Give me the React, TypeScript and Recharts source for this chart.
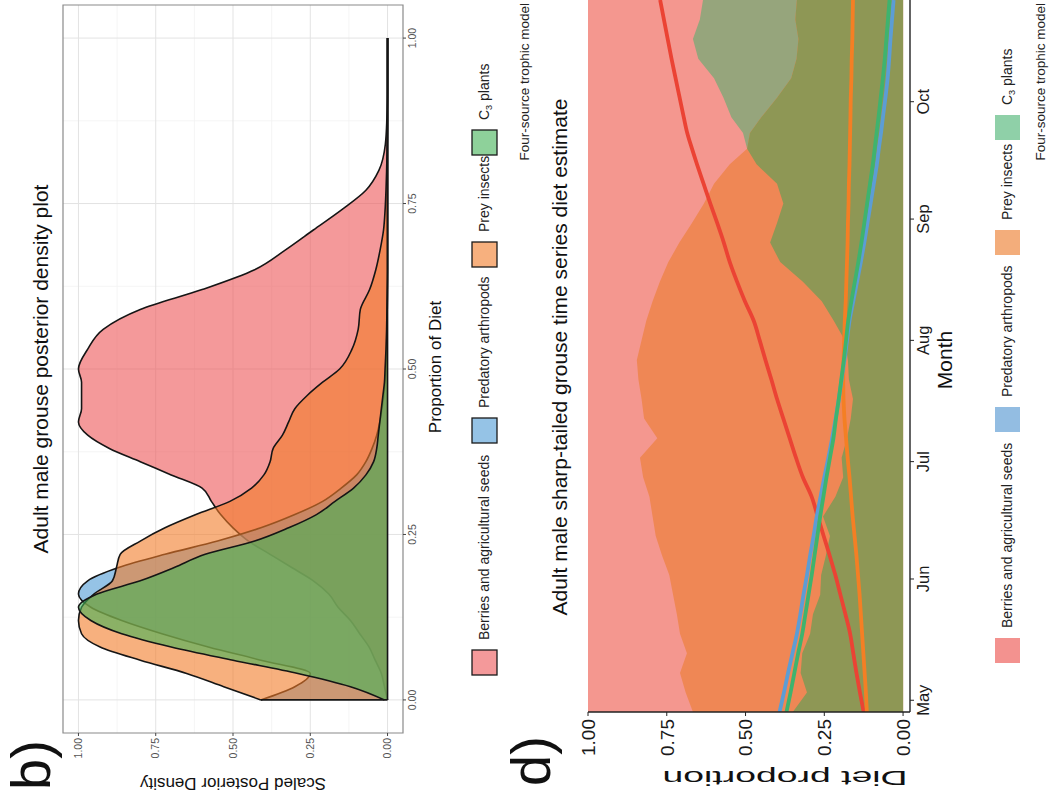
import React from "react";
import {
  ComposedChart,
  Area,
  Line,
  XAxis,
  YAxis,
  CartesianGrid,
  ReferenceLine,
  ReferenceArea,
} from "recharts";

// The whole figure is drawn upright (804 wide, 1055 tall) and then turned
// 90 degrees counter-clockwise, the way it appears in the reference.

const FONT = '"Liberation Sans", Arial, Helvetica, sans-serif';

// ---------------------------------------------------------------------------
// Panel b: posterior densities (scaled to a max of 1)
// ---------------------------------------------------------------------------

const proportion = [
  0, 0.02, 0.04, 0.06, 0.08, 0.1, 0.12, 0.14, 0.16, 0.18, 0.2, 0.22, 0.24, 0.26,
  0.28, 0.3, 0.32, 0.34, 0.36, 0.38, 0.4, 0.42, 0.44, 0.46, 0.48, 0.5, 0.53,
  0.56, 0.59, 0.62, 0.65, 0.68, 0.71, 0.74, 0.77, 0.8, 0.84, 0.88, 0.92, 1,
];
const berriesDensity = [
  0, 0.01, 0.02, 0.04, 0.06, 0.09, 0.12, 0.16, 0.19, 0.24, 0.31, 0.38, 0.45,
  0.5, 0.54, 0.57, 0.6, 0.7, 0.8, 0.9, 0.97, 1.0, 0.99, 0.99, 0.99, 1.0, 0.97,
  0.92, 0.8, 0.6, 0.43, 0.33, 0.24, 0.15, 0.07, 0.028, 0.007, 0.002, 0, 0,
];
const predatoryDensity = [
  0.41, 0.3, 0.25, 0.41, 0.58, 0.73, 0.86, 0.96, 1.0, 0.97, 0.87, 0.72, 0.55,
  0.41, 0.3, 0.21, 0.15, 0.1, 0.07, 0.05, 0.035, 0.025, 0.018, 0.012, 0.008,
  0.005, 0.003, 0.002, 0.001, 0, 0, 0, 0, 0, 0, 0, 0, 0, 0, 0,
];
const preyDensity = [
  0.41, 0.53, 0.65, 0.8, 0.93, 0.99, 1.0, 0.99, 0.95, 0.89, 0.877, 0.865, 0.8,
  0.72, 0.62, 0.51, 0.44, 0.4, 0.38, 0.37, 0.34, 0.32, 0.3, 0.26, 0.21, 0.155,
  0.115, 0.095, 0.088, 0.058, 0.038, 0.024, 0.013, 0.008, 0.005, 0.003, 0.001,
  0, 0, 0,
];
const c3Density = [
  0.01, 0.12, 0.29, 0.5, 0.7, 0.86, 0.96, 1.0, 0.94, 0.8, 0.69, 0.59, 0.43,
  0.32, 0.23, 0.17, 0.11, 0.07, 0.045, 0.035, 0.03, 0.025, 0.02, 0.015, 0.01,
  0.008, 0.005, 0.003, 0.002, 0.001, 0, 0, 0, 0, 0, 0, 0, 0, 0, 0,
];

const unitTicks = [0, 0.25, 0.5, 0.75, 1];
const minorTicks = [0.125, 0.375, 0.625, 0.875];

// ---------------------------------------------------------------------------
// Panel d: time series diet estimate
// ---------------------------------------------------------------------------

const dayOfYear = [
  118, 123, 128, 133, 138, 143, 148, 153, 158, 163, 168, 173, 178, 183, 188,
  193, 198, 203, 208, 213, 218, 223, 228, 233, 238, 243, 248, 253, 258, 262,
  266, 270, 275, 280, 285, 290, 295, 300,
];
// upper edge of the orange ribbon
const orangeBandTop = [
  0.667, 0.69, 0.708, 0.686, 0.708, 0.718, 0.73, 0.742, 0.765, 0.785, 0.795,
  0.805, 0.825, 0.835, 0.78, 0.822, 0.83, 0.84, 0.845, 0.83, 0.815, 0.795,
  0.772, 0.745, 0.71, 0.67, 0.632, 0.6, 0.55, 0.495, 0.486, 0.45, 0.4, 0.355,
  0.338, 0.332, 0.342, 0.337,
];
// upper edge of the green ribbon
const greenBandTop = [
  0.35, 0.305, 0.325, 0.32, 0.295, 0.286, 0.263, 0.26, 0.245, 0.232, 0.254,
  0.215, 0.19, 0.195, 0.178, 0.166, 0.159, 0.172, 0.175, 0.185, 0.22, 0.258,
  0.318, 0.39, 0.422, 0.4, 0.38, 0.4, 0.465, 0.495, 0.508, 0.545, 0.57, 0.6,
  0.65, 0.667, 0.645, 0.635,
];
const berriesTrend = [
  0.125, 0.137, 0.148, 0.158, 0.168, 0.183, 0.199, 0.215, 0.233, 0.252, 0.271,
  0.29, 0.318, 0.34, 0.36, 0.38, 0.4, 0.418, 0.437, 0.455, 0.474, 0.502, 0.527,
  0.55, 0.569, 0.59, 0.612, 0.633, 0.654, 0.67, 0.685, 0.696, 0.709, 0.722,
  0.735, 0.747, 0.759, 0.771,
];
const preyTrend = [
  0.115, 0.118, 0.122, 0.126, 0.13, 0.134, 0.138, 0.143, 0.148, 0.154, 0.16,
  0.165, 0.17, 0.176, 0.181, 0.186, 0.189, 0.19, 0.189, 0.187, 0.185, 0.182,
  0.18, 0.178, 0.176, 0.175, 0.173, 0.172, 0.17, 0.169, 0.168, 0.167, 0.166,
  0.164, 0.163, 0.161, 0.16, 0.159,
];
const predatoryTrend = [
  0.392, 0.378, 0.365, 0.351, 0.337, 0.326, 0.316, 0.305, 0.295, 0.284, 0.274,
  0.262, 0.25, 0.237, 0.225, 0.214, 0.204, 0.195, 0.186, 0.178, 0.17, 0.158,
  0.146, 0.134, 0.123, 0.113, 0.103, 0.093, 0.083, 0.077, 0.07, 0.064, 0.056,
  0.049, 0.044, 0.04, 0.035, 0.03,
];
const c3Trend = [
  0.37, 0.357, 0.345, 0.333, 0.32, 0.31, 0.3, 0.29, 0.281, 0.272, 0.263, 0.253,
  0.243, 0.232, 0.221, 0.213, 0.204, 0.196, 0.188, 0.181, 0.174, 0.164, 0.153,
  0.142, 0.132, 0.123, 0.114, 0.105, 0.096, 0.09, 0.084, 0.078, 0.071, 0.064,
  0.058, 0.053, 0.048, 0.043,
];

const monthTicks = [121, 152, 182, 213, 244, 274];
const monthLabels = ["May", "Jun", "Jul", "Aug", "Sep", "Oct"];

const sources = [
  "Berries and agricultural seeds",
  "Predatory arthropods",
  "Prey insects",
  "C3 plants",
];

// colours
const densityFill = ["#ED5557", "#4E9BD5", "#F27B28", "#43B356"];
const seriesLegendFill = ["#F3928F", "#93BDE2", "#F3AD7B", "#8FD0A8"];
const trendStroke = ["#EB4334", "#5C9DD5", "#F47F24", "#3FB36E"];

// ---------------------------------------------------------------------------

const densityRows = proportion.map((p, i) => ({
  p,
  berries: berriesDensity[i],
  predatory: predatoryDensity[i],
  prey: preyDensity[i],
  c3: c3Density[i],
}));

const seriesRows = dayOfYear.map((day, i) => ({
  day,
  orangeTop: orangeBandTop[i],
  greenTop: greenBandTop[i],
  overlapTop: Math.min(orangeBandTop[i], greenBandTop[i]),
  berries: berriesTrend[i],
  prey: preyTrend[i],
  predatory: predatoryTrend[i],
  c3: c3Trend[i],
}));

function C3Label({ x, y, size }: { x: number; y: number; size: number }) {
  return (
    <text x={x} y={y} fontSize={size} fontFamily={FONT} fill="#222">
      <tspan>C</tspan>
      <tspan dy={3} fontSize={size * 0.65}>3</tspan>
      <tspan dy={-3}> plants</tspan>
    </text>
  );
}

function LegendRow({
  v,
  squares,
  fills,
  bordered,
}: {
  v: number;
  squares: number[];
  fills: string[];
  bordered: boolean;
}) {
  return (
    <g>
      {sources.map((name, i) => (
        <g key={name}>
          <rect
            x={squares[i]}
            y={v}
            width={25}
            height={25}
            fill={fills[i]}
            stroke={bordered ? "#1a1a1a" : "none"}
            strokeWidth={1.3}
          />
          {i === 3 ? (
            <C3Label x={squares[i] + 35} y={v + 17} size={14} />
          ) : (
            <text
              x={squares[i] + 35}
              y={v + 17}
              fontSize={14}
              fontFamily={FONT}
              fill="#222"
            >
              {name}
            </text>
          )}
        </g>
      ))}
    </g>
  );
}

function DensityPanel() {
  const keys = ["berries", "predatory", "prey", "c3"];
  return (
    <ComposedChart
      width={804}
      height={440}
      data={densityRows}
      margin={{ top: 63, right: 5, bottom: 7, left: 0 }}
    >
      <CartesianGrid
        stroke="#F2F2F2"
        strokeWidth={0.8}
        horizontalValues={minorTicks}
        verticalValues={minorTicks}
      />
      <CartesianGrid
        stroke="#E3E3E3"
        strokeWidth={1}
        horizontalValues={unitTicks}
        verticalValues={unitTicks}
      />
      <XAxis
        dataKey="p"
        type="number"
        domain={[-0.05, 1.05]}
        allowDataOverflow
        ticks={unitTicks}
        tickFormatter={(v: number) => v.toFixed(2)}
        axisLine={false}
        tickSize={3}
        tickMargin={3}
        tickLine={{ stroke: "#444" }}
        tick={{ fontSize: 10.5, fill: "#555", fontFamily: FONT }}
      />
      <YAxis
        type="number"
        domain={[-0.05, 1.05]}
        allowDataOverflow
        ticks={unitTicks}
        tickFormatter={(v: number) => v.toFixed(2)}
        width={71}
        axisLine={false}
        tickSize={3}
        tickMargin={2}
        tickLine={{ stroke: "#444" }}
        tick={{ fontSize: 10.5, fill: "#555", fontFamily: FONT }}
      />
      {keys.map((k, i) => (
        <Area
          key={k}
          type="monotone"
          dataKey={k}
          fill={densityFill[i]}
          fillOpacity={0.6}
          stroke="#151515"
          strokeWidth={1.6}
          dot={false}
          activeDot={false}
          isAnimationActive={false}
        />
      ))}
      <ReferenceLine
        segment={[
          { x: 0, y: 0 },
          { x: 1, y: 0 },
        ]}
        stroke="#151515"
        strokeWidth={1.6}
      />
      <ReferenceLine
        segment={[
          { x: 0, y: 0 },
          { x: 0, y: preyDensity[0] },
        ]}
        stroke="#151515"
        strokeWidth={1.6}
      />
      <ReferenceArea
        x1={-0.05}
        x2={1.05}
        y1={-0.05}
        y2={1.05}
        fill="none"
        stroke="#8A8A8A"
        strokeWidth={1.2}
      />
    </ComposedChart>
  );
}

function SeriesPanel() {
  const lineKeys = ["berries", "prey", "predatory", "c3"];
  const lineColor = [trendStroke[0], trendStroke[2], trendStroke[1], trendStroke[3]];
  return (
    <ComposedChart
      width={804}
      height={425}
      data={seriesRows}
      margin={{ top: 58, right: 0, bottom: 0, left: 0 }}
    >
      <ReferenceArea x1={118} x2={300} y1={0} y2={1} fill="#F4978F" fillOpacity={1} stroke="none" />
      <XAxis
        dataKey="day"
        type="number"
        domain={[118, 300]}
        allowDataOverflow
        ticks={monthTicks}
        tickFormatter={(v: number) => monthLabels[monthTicks.indexOf(v)]}
        height={45}
        axisLine={{ stroke: "#222", strokeWidth: 1.4 }}
        tickLine={{ stroke: "#222" }}
        tickSize={4}
        tickMargin={3}
        tick={{ fontSize: 16.5, fill: "#1a1a1a", fontFamily: FONT }}
      />
      <YAxis
        type="number"
        domain={[-0.022, 1]}
        allowDataOverflow
        ticks={unitTicks}
        tickFormatter={(v: number) => v.toFixed(2)}
        width={92}
        axisLine={{ stroke: "#222", strokeWidth: 1.4 }}
        tickLine={{ stroke: "#222" }}
        tickSize={4}
        tickMargin={3}
        tick={{ fontSize: 19, fill: "#1a1a1a", fontFamily: FONT }}
      />
      <Area type="linear" dataKey="greenTop" fill="#96A57C" fillOpacity={1} stroke="none" dot={false} activeDot={false} isAnimationActive={false} />
      <Area type="linear" dataKey="orangeTop" fill="#EF8755" fillOpacity={1} stroke="none" dot={false} activeDot={false} isAnimationActive={false} />
      <Area type="linear" dataKey="overlapTop" fill="#8E9755" fillOpacity={1} stroke="none" dot={false} activeDot={false} isAnimationActive={false} />
      {lineKeys.map((k, i) => (
        <Line
          key={k}
          type="monotone"
          dataKey={k}
          stroke={lineColor[i]}
          strokeWidth={3.8}
          dot={false}
          activeDot={false}
          isAnimationActive={false}
        />
      ))}
    </ComposedChart>
  );
}

export default function App() {
  return (
    <div
      style={{
        position: "fixed",
        left: 0,
        top: 0,
        width: 1055,
        height: 804,
        overflow: "hidden",
        background: "#fff",
      }}
    >
      <div
        style={{
          position: "absolute",
          left: 0,
          top: 0,
          width: 804,
          height: 1055,
          transformOrigin: "0 0",
          transform: "translate(0px, 804px) rotate(-90deg)",
          fontFamily: FONT,
          background: "#fff",
        }}
      >
        <div style={{ position: "absolute", left: 0, top: 0 }}>
          <DensityPanel />
        </div>
        <div style={{ position: "absolute", left: 0, top: 530 }}>
          <SeriesPanel />
        </div>
        <svg
          width={804}
          height={1055}
          style={{ position: "absolute", left: 0, top: 0, pointerEvents: "none" }}
        >
          {/* panel b */}
          <text x={14} y={50} fontSize={56} fontFamily={FONT} fill="#111">b)</text>
          <text x={435} y={48} fontSize={21} fontFamily={FONT} textAnchor="middle" fill="#111">
            Adult male grouse posterior density plot
          </text>
          <text
            x={26}
            y={233}
            transform="rotate(-90 26 233)"
            fontSize={17}
            fontFamily={FONT}
            textAnchor="middle"
            fill="#111"
          >
            Scaled Posterior Density
          </text>
          <text x={437} y={441} fontSize={17} fontFamily={FONT} textAnchor="middle" fill="#111">
            Proportion of Diet
          </text>
          <LegendRow
            v={472}
            squares={[129, 361, 537, 649]}
            fills={["#F4999A", "#95C3E6", "#F7B07E", "#8ED19A"]}
            bordered
          />
          <text x={801} y={529} fontSize={13.5} fontFamily={FONT} textAnchor="end" fill="#222">
            Four-source trophic model
          </text>

          {/* panel d */}
          <text x={18} y={550} fontSize={56} fontFamily={FONT} fill="#111">d)</text>
          <text x={447} y={567} fontSize={21} fontFamily={FONT} textAnchor="middle" fill="#111">
            Adult male sharp-tailed grouse time series diet estimate
          </text>
          <text
            x={33}
            y={785}
            transform="rotate(-90 33 785)"
            fontSize={21}
            fontFamily={FONT}
            textAnchor="middle"
            textLength={245}
            lengthAdjust="spacingAndGlyphs"
            fill="#111"
          >
            Diet proportion
          </text>
          <text x={444} y={952} fontSize={21} fontFamily={FONT} textAnchor="middle" fill="#111">
            Month
          </text>
          <LegendRow v={995} squares={[141, 372, 549, 664]} fills={seriesLegendFill} bordered={false} />
          <text x={801} y={1045} fontSize={13.5} fontFamily={FONT} textAnchor="end" fill="#222">
            Four-source trophic model
          </text>
        </svg>
      </div>
    </div>
  );
}
